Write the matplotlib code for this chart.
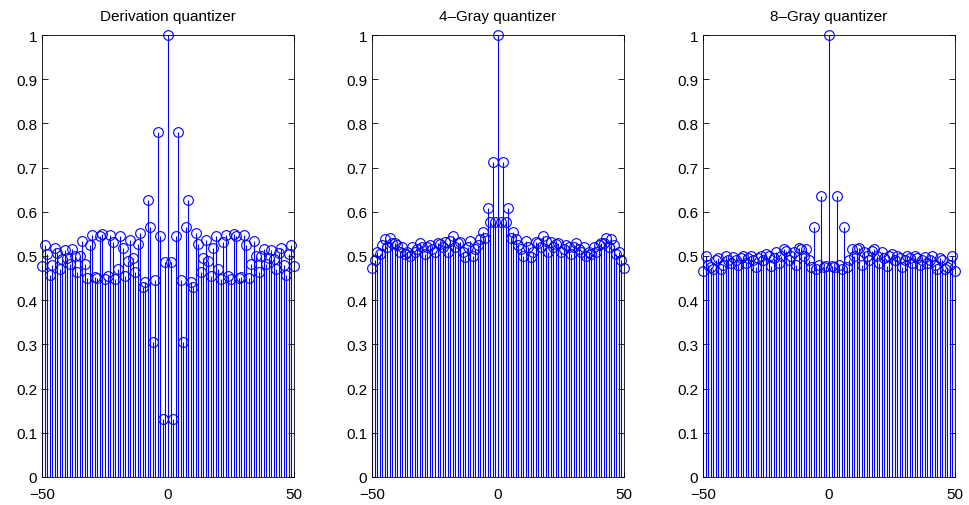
"""
Autocorrelation stems for three quantizers (derivation, 4-Gray, 8-Gray).
"""

import numpy as np
import matplotlib
matplotlib.use('Agg')
import matplotlib.pyplot as plt

plt.rcParams['font.family'] = ['Liberation Sans', 'DejaVu Sans']

# lags 0..50, the curves are symmetric so the left half is mirrored
deriv_half = [1.0, 0.486, 0.131, 0.545, 0.78, 0.445, 0.305, 0.565, 0.627, 0.442,
              0.43, 0.551, 0.528, 0.463, 0.495, 0.537, 0.489, 0.455, 0.517, 0.545,
              0.47, 0.448, 0.532, 0.547, 0.454, 0.447, 0.55, 0.545, 0.45, 0.452,
              0.547, 0.525, 0.45, 0.482, 0.535, 0.499, 0.463, 0.499, 0.516, 0.482,
              0.495, 0.513, 0.493, 0.47, 0.507, 0.517, 0.48, 0.457, 0.504, 0.525,
              0.477]
gray4_half = [1.0, 0.578, 0.713, 0.578, 0.608, 0.54, 0.555, 0.538, 0.525, 0.516,
              0.501, 0.535, 0.52, 0.497, 0.51, 0.531, 0.53, 0.52, 0.546, 0.535,
              0.508, 0.531, 0.52, 0.528, 0.53, 0.51, 0.515, 0.525, 0.52, 0.505,
              0.52, 0.53, 0.515, 0.51, 0.52, 0.5, 0.51, 0.505, 0.52, 0.51,
              0.525, 0.53, 0.53, 0.54, 0.52, 0.538, 0.525, 0.505, 0.51, 0.49,
              0.473]
gray8_half = [1.0, 0.477, 0.475, 0.635, 0.48, 0.47, 0.565, 0.475, 0.49, 0.515,
              0.5, 0.515, 0.517, 0.48, 0.51, 0.5, 0.49, 0.512, 0.515, 0.5,
              0.485, 0.51, 0.495, 0.478, 0.5, 0.505, 0.49, 0.5, 0.495, 0.475,
              0.49, 0.5, 0.495, 0.485, 0.5, 0.495, 0.48, 0.49, 0.498, 0.485,
              0.49, 0.5, 0.48, 0.47, 0.495, 0.49, 0.47, 0.475, 0.48, 0.5,
              0.465]

titles = ['Derivation quantizer', '4\u2013Gray quantizer', '8\u2013Gray quantizer']
x_ticks = [-50, 0, 50]
y_ticks = [0, 0.1, 0.2, 0.3, 0.4, 0.5, 0.6, 0.7, 0.8, 0.9, 1]


def mirror(half):
    half = np.array(half)
    return np.concatenate([half[:0:-1], half])


lags = np.arange(-50, 51)
series = [mirror(deriv_half), mirror(gray4_half), mirror(gray8_half)]

fig = plt.figure(figsize=(9.7, 5.06), dpi=100)
lefts = [42 / 970, 372 / 970, 703 / 970]
width = 252 / 970
bottom = 28 / 506
height = 442 / 506

for left, vals, title in zip(lefts, series, titles):
    ax = fig.add_axes([left, bottom, width, height])
    markers, stems, base = ax.stem(lags, vals, linefmt='b-', markerfmt='bo', basefmt=' ')
    stems.set_linewidth(0.8)
    markers.set_markerfacecolor('none')
    markers.set_markeredgewidth(0.8)
    markers.set_markersize(7)
    markers.set_clip_on(False)

    ax.set_xlim(-50, 50)
    ax.set_ylim(0, 1)
    ax.set_xticks(x_ticks)
    ax.set_xticklabels(['\u221250', '0', '50'])
    ax.set_yticks(y_ticks)
    ax.set_yticklabels(['0' if t == 0 else ('1' if t == 1 else f'{t:.1f}') for t in y_ticks])
    ax.tick_params(direction='in', top=True, right=True, length=4, labelsize=11, width=0.6)
    ax.tick_params(axis='x', pad=7)
    for sp in ax.spines.values():
        sp.set_linewidth(0.6)
    ax.set_title(title, fontsize=11, pad=11)

plt.savefig('out.png', dpi=100)
